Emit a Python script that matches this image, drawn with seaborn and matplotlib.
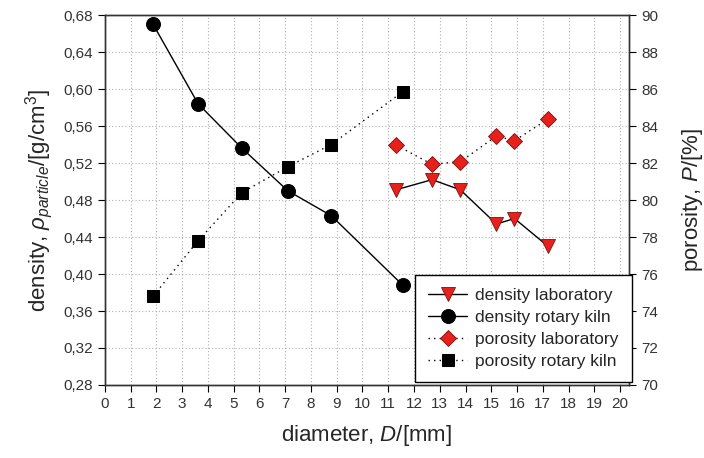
import matplotlib
matplotlib.use("Agg")
import matplotlib.pyplot as plt
import seaborn as sns
from matplotlib.ticker import FuncFormatter

# dane
d_kiln = [1.87, 3.62, 5.32, 7.10, 8.79, 11.56]
dens_kiln = [0.670, 0.584, 0.536, 0.490, 0.463, 0.388]
por_kiln = [74.8, 77.8, 80.4, 81.8, 83.0, 85.85]

d_lab = [11.3, 12.7, 13.8, 15.2, 15.9, 17.2]
dens_lab = [0.491, 0.502, 0.491, 0.454, 0.460, 0.430]
por_lab = [82.97, 81.93, 82.07, 83.46, 83.2, 84.38]

x_ticks = list(range(0, 21))
y_ticks = [0.28, 0.32, 0.36, 0.40, 0.44, 0.48, 0.52, 0.56, 0.60, 0.64, 0.68]
y2_ticks = list(range(70, 91, 2))

sns.set_style("ticks")
plt.rcParams['font.family'] = ['Liberation Sans', 'DejaVu Sans']
plt.rcParams['mathtext.fontset'] = 'custom'
plt.rcParams['mathtext.rm'] = 'Liberation Sans'
plt.rcParams['mathtext.it'] = 'Liberation Sans:italic'

fig = plt.figure(figsize=(7.04, 4.58), dpi=100)
ax = fig.add_axes([0.149, 0.1594, 0.7446, 0.8078])
ax2 = ax.twinx()

red = "#e8201c"

sns.lineplot(x=d_lab, y=dens_lab, ax=ax, sort=False, color="black", linewidth=1,
             marker="v", markersize=10, markerfacecolor=red, markeredgecolor="#7a1010",
             markeredgewidth=0.6, label="density laboratory", legend=False)
sns.lineplot(x=d_kiln, y=dens_kiln, ax=ax, sort=False, color="black", linewidth=1,
             marker="o", markersize=10, markerfacecolor="black", markeredgecolor="black",
             label="density rotary kiln", legend=False)
sns.lineplot(x=d_lab, y=por_lab, ax=ax2, sort=False, color="black", linewidth=1,
             linestyle=(0, (1, 3)), marker="D", markersize=8, markerfacecolor=red,
             markeredgecolor="#7a1010", markeredgewidth=0.6,
             label="porosity laboratory", legend=False)
sns.lineplot(x=d_kiln, y=por_kiln, ax=ax2, sort=False, color="black", linewidth=1,
             linestyle=(0, (1, 3)), marker="s", markersize=8, markerfacecolor="black",
             markeredgecolor="black", label="porosity rotary kiln", legend=False)

ax.set_xlim(0, 20.35)
ax.set_ylim(0.28, 0.68)
ax2.set_ylim(70, 90)
ax.set_xticks(x_ticks)
ax.set_yticks(y_ticks)
ax2.set_yticks(y2_ticks)
ax.yaxis.set_major_formatter(FuncFormatter(lambda v, p: f"{v:.2f}".replace(".", ",")))

ax.grid(True, color="#b0b0b0", linestyle=(0, (1, 2)), linewidth=0.8)
ax.set_axisbelow(True)

for a in (ax, ax2):
    a.tick_params(direction="out", length=5, width=0.8, labelsize=11, colors="black",
                  labelcolor="#333333")
    for s in a.spines.values():
        s.set_linewidth(1)
        s.set_color("#333333")

ax.set_xlabel(r"diameter, $D$/[mm]", fontsize=16, labelpad=9)
ax.set_ylabel(r"density, $\rho_{particle}$/[g/cm$^3$]", fontsize=16, labelpad=6)
ax2.set_ylabel(r"porosity, $P$/[%]", fontsize=16, labelpad=16)

h1, l1 = ax.get_legend_handles_labels()
h2, l2 = ax2.get_legend_handles_labels()
leg = ax2.legend(h1 + h2, l1 + l2, loc="lower right", bbox_to_anchor=(1.005, 0.008),
                 borderaxespad=0, fontsize=12.5, handlelength=2.2, handletextpad=0.5,
                 frameon=True, fancybox=False, edgecolor="black", framealpha=1,
                 labelspacing=0.39, borderpad=0.75)
leg.get_frame().set_linewidth(1)

fig.savefig("out.png", dpi=100)
